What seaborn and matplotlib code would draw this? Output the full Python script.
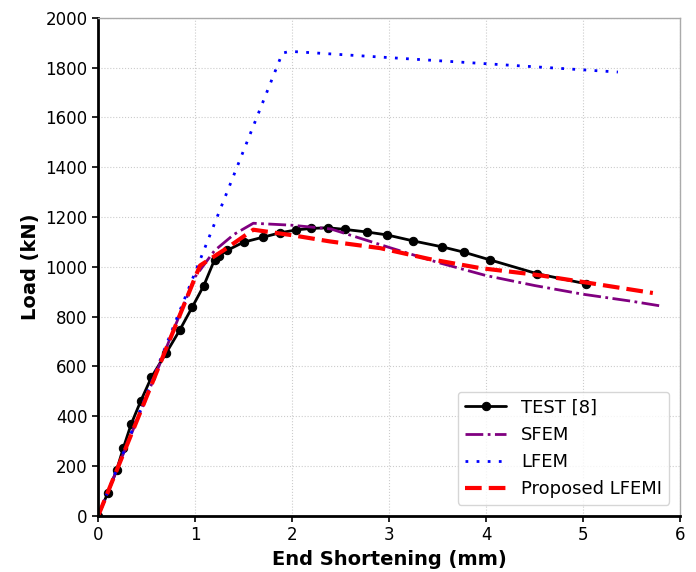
import matplotlib
matplotlib.use("Agg")
import matplotlib.pyplot as plt
import seaborn as sns
import pandas as pd

# Load vs end shortening
test_x = [0.0, 0.10, 0.19, 0.26, 0.34, 0.44, 0.55, 0.70, 0.84, 0.97, 1.09, 1.20, 1.25,
          1.33, 1.50, 1.70, 1.88, 2.04, 2.19, 2.37, 2.55, 2.77, 2.98, 3.25, 3.55,
          3.77, 4.04, 4.53, 5.03]
test_y = [0, 93, 183, 273, 368, 462, 557, 653, 745, 838, 925, 1028, 1045,
          1066, 1099, 1119, 1137, 1148, 1154, 1157, 1150, 1140, 1128, 1104, 1080,
          1059, 1028, 972, 932]

sfem_x = [0.0, 1.0, 1.2, 1.4, 1.6, 2.0, 2.4, 2.7, 3.0, 3.5, 4.0, 4.5, 5.0, 5.5, 5.8]
sfem_y = [0, 960, 1065, 1130, 1175, 1167, 1152, 1115, 1078, 1018, 965, 925, 890, 862, 843]

lfem_x = [0.0, 1.9, 1.98, 5.36]
lfem_y = [0, 1858, 1865, 1782]

lfemi_x = [0.0, 1.05, 1.3, 1.6, 2.0, 2.39, 2.91, 3.42, 3.94, 4.52, 4.97, 5.72]
lfemi_y = [0, 1005, 1068, 1149, 1127, 1102, 1075, 1031, 995, 968, 941, 895]

test_df = pd.DataFrame({"x": test_x, "y": test_y})
sfem_df = pd.DataFrame({"x": sfem_x, "y": sfem_y})
lfem_df = pd.DataFrame({"x": lfem_x, "y": lfem_y})
lfemi_df = pd.DataFrame({"x": lfemi_x, "y": lfemi_y})

sns.set_style("white")
plt.rcParams["font.family"] = ["DejaVu Sans"]
plt.rcParams.update({"text.color": "black", "axes.labelcolor": "black",
                     "xtick.color": "black", "ytick.color": "black"})

fig = plt.figure(figsize=(6.96, 5.72), dpi=100)
ax = fig.add_axes([0.141, 0.098, 0.836, 0.871])

sns.lineplot(data=test_df, x="x", y="y", ax=ax, color="black", lw=2, marker="o",
             markersize=6, markeredgecolor="black", label="TEST [8]", sort=False)
sns.lineplot(data=sfem_df, x="x", y="y", ax=ax, color="purple", lw=2,
             linestyle="-.", label="SFEM", sort=False)
sns.lineplot(data=lfem_df, x="x", y="y", ax=ax, color="blue", lw=2,
             linestyle=(0, (1, 3)), label="LFEM", sort=False)
sns.lineplot(data=lfemi_df, x="x", y="y", ax=ax, color="red", lw=3,
             linestyle=(0, (4, 1.7)), label="Proposed LFEMI", sort=False)

ax.set_xlim(0, 6)
ax.set_ylim(0, 2000)
ax.set_xticks(range(0, 7))
ax.set_yticks(range(0, 2001, 200))
ax.grid(True, linestyle=":", color="#cccccc", linewidth=0.8)
ax.tick_params(axis="both", labelsize=12, length=4, width=1.2, direction="out",
               left=True, bottom=True, color="black", labelcolor="black")
ax.set_xlabel("End Shortening (mm)", fontsize=14, fontweight="bold", color="black")
ax.set_ylabel("Load (kN)", fontsize=14, fontweight="bold", color="black")

for side in ["left", "bottom"]:
    ax.spines[side].set_color("black")
    ax.spines[side].set_linewidth(2)
for side in ["top", "right"]:
    ax.spines[side].set_color("#aaaaaa")
    ax.spines[side].set_linewidth(1)

leg = ax.legend(loc="lower right", fontsize=13, frameon=True, handlelength=2.3,
                borderaxespad=0.6)
for t in leg.get_texts():
    t.set_color("black")

fig.savefig("out.png", dpi=100)
